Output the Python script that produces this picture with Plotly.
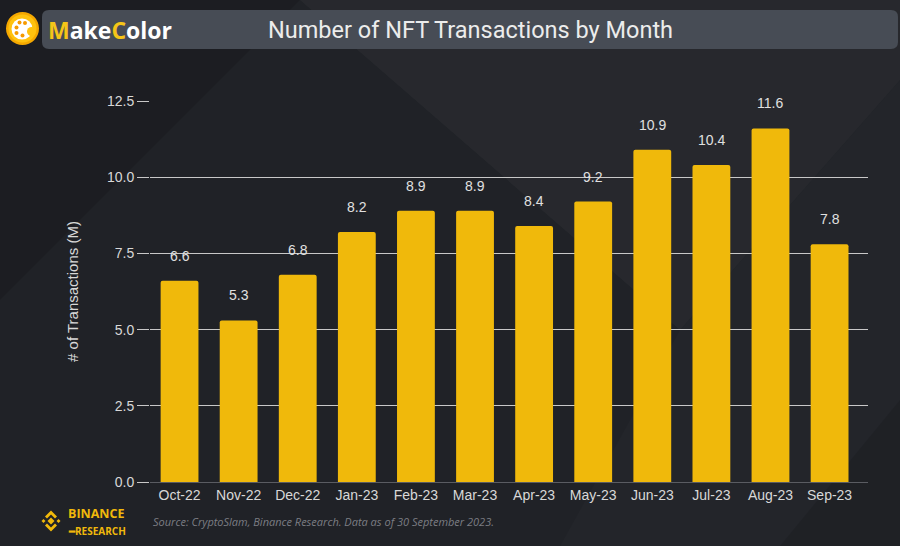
import plotly.graph_objects as go

months = ["Oct-22", "Nov-22", "Dec-22", "Jan-23", "Feb-23", "Mar-23",
          "Apr-23", "May-23", "Jun-23", "Jul-23", "Aug-23", "Sep-23"]
transactions = [6.6, 5.3, 6.8, 8.2, 8.9, 8.9, 8.4, 9.2, 10.9, 10.4, 11.6, 7.8]
y_ticks = [0.0, 2.5, 5.0, 7.5, 10.0, 12.5]

YELLOW = "#f0b90b"
BG = "#202227"

# plot-area pixel box
L, R, T, B = 150, 868, 101, 482
def px(x): return (x - L) / (R - L)
def py(y): return (B - y) / (B - T)

fig = go.Figure()
fig.add_trace(go.Bar(
    x=months, y=transactions, marker=dict(color=YELLOW, line=dict(width=0), cornerradius=2),
    width=0.64, hoverinfo="skip"
))

for m, v in zip(months, transactions):
    fig.add_annotation(x=m, y=v, text=f"{v:.1f}", showarrow=False, yshift=25,
                       font=dict(family="Liberation Sans, Arial", size=14, color="#e0e0e0"))

shapes = []
def poly(pts, color, layer="below"):
    p = "M " + " L ".join(f"{px(a):.5f},{py(b):.5f}" for a, b in pts) + " Z"
    return dict(type="path", xref="paper", yref="paper", layer=layer, path=p,
                fillcolor=color, line=dict(width=0))

# background diagonal panels
shapes.append(poly([(300, 0), (900, 0), (900, 80), (680, 330)], "rgba(255,255,255,0.03)"))
shapes.append(poly([(680, 330), (900, 80), (900, 546), (560, 546)], "rgba(255,255,255,0.015)"))
shapes.append(poly([(0, 0), (300, 0), (0, 300)], "rgba(0,0,0,0.12)"))
shapes.append(poly([(780, 546), (900, 400), (900, 546)], "rgba(0,0,0,0.10)"))

fig.update_layout(
    width=900, height=546,
    margin=dict(l=L, r=900 - R, t=T, b=546 - B),
    paper_bgcolor=BG, plot_bgcolor="rgba(0,0,0,0)",
    showlegend=False,
    xaxis=dict(range=[-0.5, 11.65], showgrid=False, ticks="",
               tickfont=dict(family="Liberation Sans, Arial", size=14, color="#d8d8d8"),
               showline=True, linecolor="#5a5c62", linewidth=1, fixedrange=True),
    yaxis=dict(range=[0, 12.5], tickvals=y_ticks, ticktext=[f"{t:.1f}" for t in y_ticks],
               showgrid=True, gridcolor="#c8c8c8", gridwidth=1, zeroline=False,
               ticks="outside", ticklen=12, tickcolor="#c8c8c8",
               tickfont=dict(family="Liberation Sans, Arial", size=14, color="#d8d8d8"),
               title=dict(text="# of Transactions (M)", standoff=24,
                          font=dict(family="Liberation Sans, Arial", size=15, color="#d8d8d8")),
               fixedrange=True),
)

# Header bar (rounded rectangle)
x0, x1, y0, y1, r = 42, 898, 10, 49, 7
def P(a, b): return f"{px(a):.5f},{py(b):.5f}"
hp = (f"M {P(x0+r,y0)} L {P(x1-r,y0)} Q {P(x1,y0)} {P(x1,y0+r)} L {P(x1,y1-r)} Q {P(x1,y1)} {P(x1-r,y1)} "
      f"L {P(x0+r,y1)} Q {P(x0,y1)} {P(x0,y1-r)} L {P(x0,y0+r)} Q {P(x0,y0)} {P(x0+r,y0)} Z")
shapes.append(dict(type="path", xref="paper", yref="paper", path=hp,
                   fillcolor="#474c55", line=dict(width=0), layer="below"))

# MakeColor logo
def circ(cx, cy, rr, color):
    return dict(type="circle", xref="paper", yref="paper",
                x0=px(cx - rr), x1=px(cx + rr), y0=py(cy + rr), y1=py(cy - rr),
                fillcolor=color, line=dict(width=0))
shapes.append(circ(22.5, 28.5, 16.5, "#f5a800"))
shapes.append(circ(22.5, 28.5, 14, "#ffc20e"))
shapes.append(circ(22, 29, 10.5, "#ffffff"))
shapes.append(circ(31.5, 31.5, 4.5, "#ffc20e"))
for cx, cy in [(16.5, 27.5), (19.5, 22.5), (25, 23), (16.5, 33), (22.5, 35.5)]:
    shapes.append(circ(cx, cy, 2, "#f59a00"))

# Binance logo diamonds
cx0, cy0 = 51, 521
def diamond(cx, cy, s):
    return poly([(cx, cy - s), (cx + s, cy), (cx, cy + s), (cx - s, cy)], YELLOW, "above")
for cx, cy, s in [(cx0, cy0, 3.5), (cx0 - 7.5, cy0, 2), (cx0 + 7.5, cy0, 2)]:
    shapes.append(diamond(cx, cy, s))
for sgn in (1, -1):
    shapes.append(poly([(cx0 - 6, cy0 - 4.5 * sgn), (cx0, cy0 - 10.5 * sgn), (cx0 + 6, cy0 - 4.5 * sgn),
                        (cx0 + 4, cy0 - 2.5 * sgn), (cx0, cy0 - 6.5 * sgn), (cx0 - 4, cy0 - 2.5 * sgn)],
                       YELLOW, "above"))

fig.update_layout(shapes=shapes)

def ann(x, y, text, font, xanchor="left", yanchor="middle"):
    fig.add_annotation(xref="paper", yref="paper", x=px(x), y=py(y), xanchor=xanchor,
                       yanchor=yanchor, showarrow=False, text=text, font=font, borderpad=0)

ann(47, 30, "<b><span style='color:#f5c518'>M</span>ake<span style='color:#f5c518'>C</span>olor</b>",
    dict(family="Open Sans, Inter", size=23, color="#ffffff"))
ann(470, 30, "Number of NFT Transactions by Month",
    dict(family="Roboto, Noto Sans", size=23.5, color="#ececec"), "center")
ann(67, 523, "<b>BINANCE</b>", dict(family="Open Sans, Inter", size=12.5, color=YELLOW),
    yanchor="bottom")
ann(67, 523, "<b>━RESEARCH</b>", dict(family="Open Sans, Inter", size=10, color=YELLOW),
    yanchor="top")
ann(152, 521, "<i>Source: CryptoSlam, Binance Research. Data as of 30 September 2023.</i>",
    dict(family="Open Sans, Noto Sans", size=11, color="#7c7e84"))

fig.write_html("out.html")
